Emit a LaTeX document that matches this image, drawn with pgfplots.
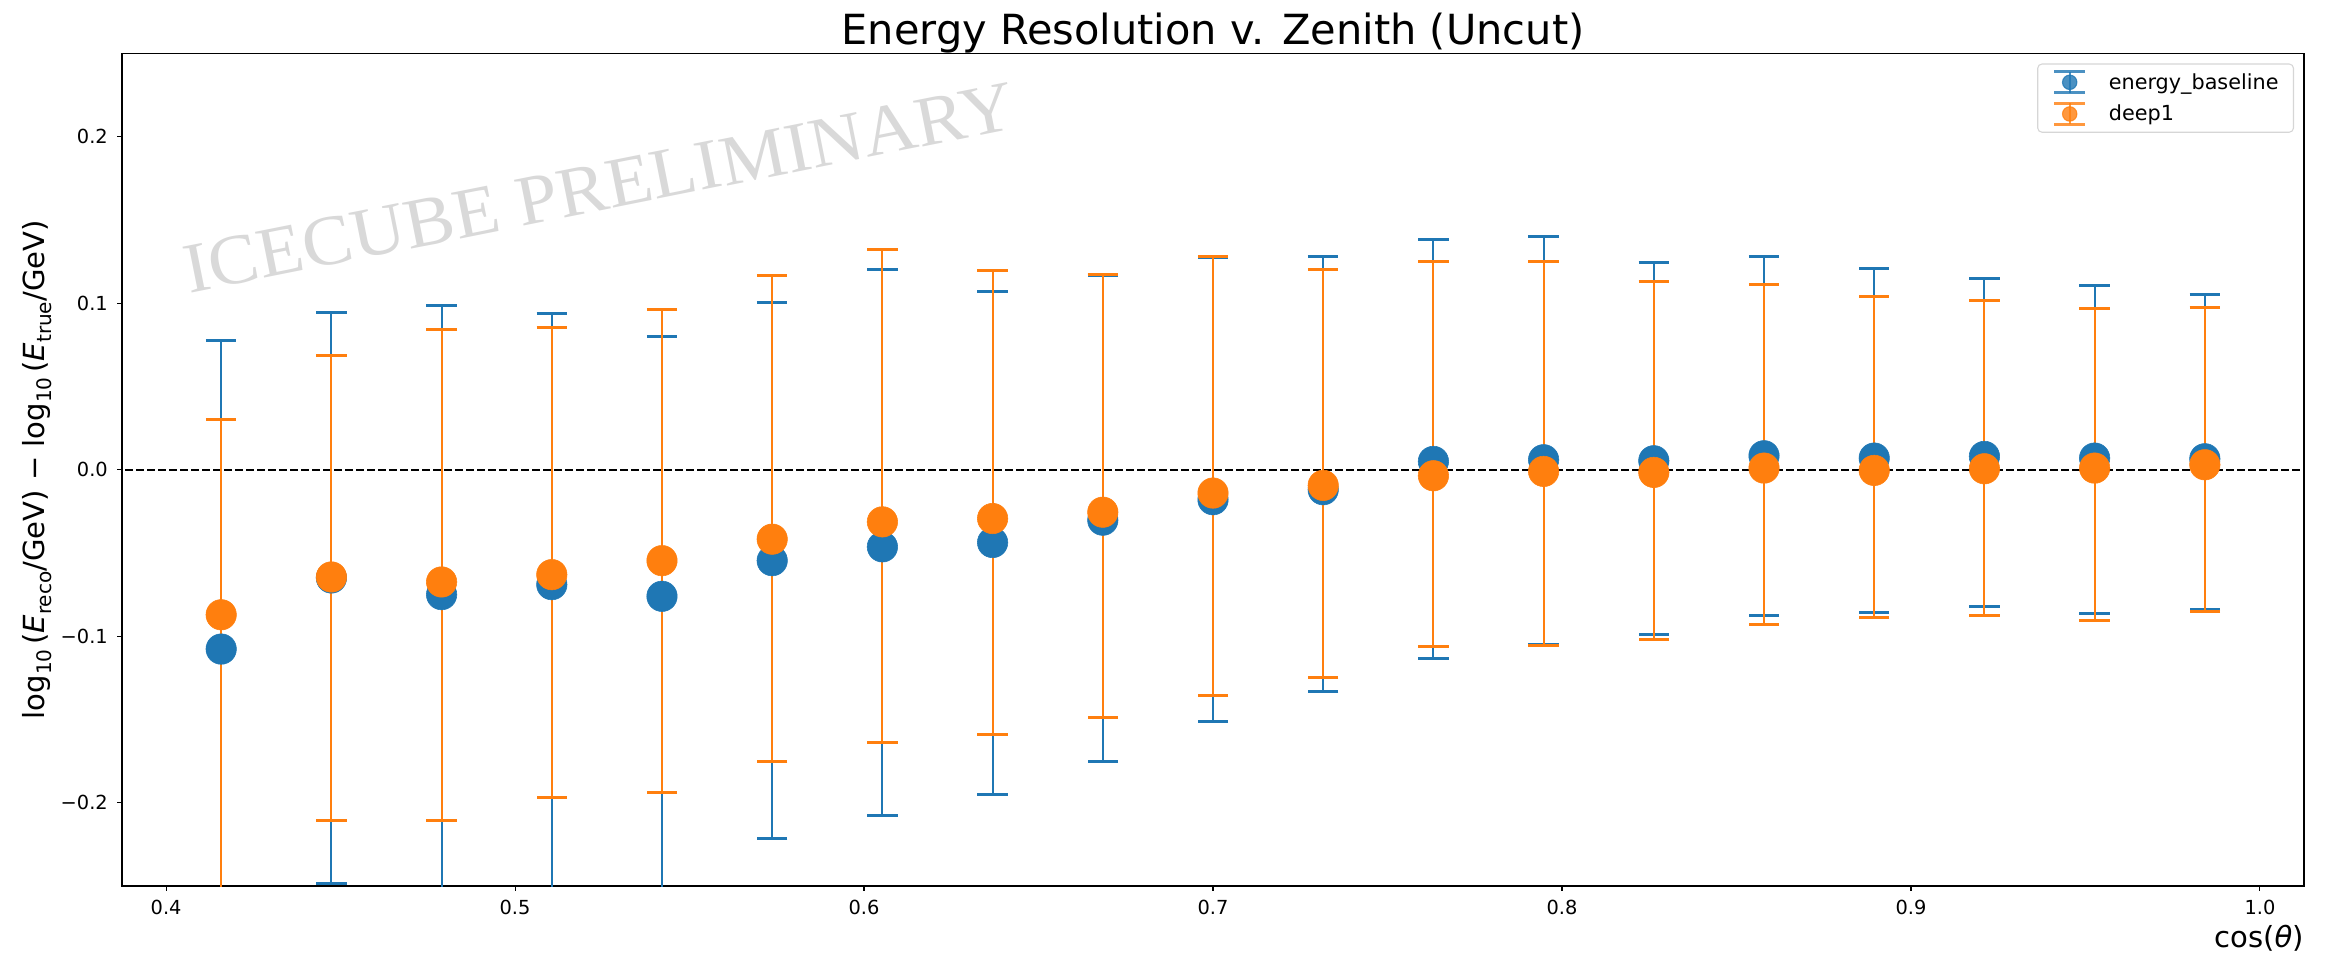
\documentclass[border=0pt]{standalone}
\usepackage{fontspec}
\setmainfont{DejaVu Sans}
\newfontfamily\wmfont{Liberation Serif}
\usepackage{pgfplots}
\pgfplotsset{compat=1.18}
\usepackage{pgfplotstable}
\definecolor{tabblue}{RGB}{31,119,180}
\definecolor{taborange}{RGB}{255,127,14}

% energy_baseline: x, centre, upper end, lower end of the error bar
\pgfplotstableread{
x y hi lo
0.415789 -0.1077 0.0778 -0.30
0.447368 -0.0650 0.0946 -0.2487
0.478947 -0.0750 0.0988 -0.30
0.510526 -0.0690 0.0940 -0.30
0.542105 -0.0760 0.0798 -0.30
0.573684 -0.0546 0.1006 -0.2217
0.605263 -0.0463 0.1200 -0.2076
0.636842 -0.0437 0.1070 -0.1952
0.668421 -0.0303 0.1168 -0.1751
0.700000 -0.0180 0.1275 -0.1511
0.731579 -0.0120 0.1278 -0.1330
0.763158 0.0050 0.1382 -0.1135
0.794737 0.0060 0.1402 -0.1047
0.826316 0.0054 0.1246 -0.0991
0.857895 0.0084 0.1278 -0.0875
0.889474 0.0070 0.1208 -0.0855
0.921053 0.0080 0.1150 -0.0823
0.952632 0.0070 0.1104 -0.0861
0.984211 0.0066 0.1052 -0.0841
}\bluetab

% deep1
\pgfplotstableread{
x y hi lo
0.415789 -0.0871 0.0304 -0.30
0.447368 -0.0644 0.0688 -0.2108
0.478947 -0.0674 0.0842 -0.2108
0.510526 -0.0630 0.0856 -0.1966
0.542105 -0.0546 0.0960 -0.1938
0.573684 -0.0417 0.1168 -0.1751
0.605263 -0.0313 0.1324 -0.1641
0.636842 -0.0293 0.1194 -0.1589
0.668421 -0.0255 0.1174 -0.1486
0.700000 -0.0140 0.1282 -0.1356
0.731579 -0.0094 0.1202 -0.1246
0.763158 -0.0036 0.1252 -0.1063
0.794737 -0.0010 0.1252 -0.1057
0.826316 -0.0016 0.1128 -0.1019
0.857895 0.0010 0.1110 -0.0927
0.889474 -0.0004 0.1038 -0.0889
0.921053 0.0006 0.1018 -0.0875
0.952632 0.0010 0.0966 -0.0903
0.984211 0.0030 0.0974 -0.0853
}\orangetab

\newcommand\sub[1]{\raisebox{-0.22em}{\fontsize{14.5}{14.5}\selectfont #1}}
\newcommand\lgimg[1]{%
  \draw[#1, line width=1.5pt] (0.155in,-0.105in) -- (0.155in,0.105in);
  \draw[#1, line width=2.2pt] (0in,-0.105in) -- (0.31in,-0.105in);
  \draw[#1, line width=2.2pt] (0in,0.105in) -- (0.31in,0.105in);
  \fill[#1] (0.155in,0pt) circle[radius=0.072in];}

\begin{document}
\begin{tikzpicture}
\path[use as bounding box] (-1.22in,-0.69in) rectangle (22.09in,8.86in);
\begin{axis}[
  name=ax, at={(0,0)}, anchor=south west,
  scale only axis, width=21.82in, height=8.325in,
  xmin=0.387368, xmax=1.012632, ymin=-0.25, ymax=0.25,
  xtick={0.4,0.5,0.6,0.7,0.8,0.9,1.0},
  xticklabels={0.4,0.5,0.6,0.7,0.8,0.9,1.0},
  ytick={-0.2,-0.1,0,0.1,0.2},
  yticklabels={−0.2,−0.1,0.0,0.1,0.2},
  tick pos=left, tick align=outside, major tick length=3.5pt,
  tick style={black, line width=0.8pt},
  axis line style={line width=0.8pt},
  ticklabel style={font=\fontsize{14}{16.8}\selectfont},
  xticklabel style={anchor=north, inner sep=0pt, yshift=-0.091in},
  yticklabel style={anchor=east, inner sep=0pt, xshift=-0.091in},
  legend style={at={(1,1)}, anchor=north east, xshift=-0.10in, yshift=-0.1in,
    draw=black!20, draw opacity=0.8, line width=0.8pt, rounded corners=3pt,
    fill=white, fill opacity=0.8, text opacity=1,
    font=\fontsize{15}{18}\selectfont,
    inner xsep=10.8pt, inner ysep=4.5pt, row sep=5.5pt, column sep=16pt,
    nodes={inner sep=0pt}},
  legend cell align=left,
]
\addplot[black, line width=1.5pt, dash pattern=on 5.55pt off 2.4pt, forget plot]
  coordinates {(0.3,0) (1.1,0)};

\addplot[only marks, mark=*, color=tabblue, mark size=11pt,
  legend image code/.code={\lgimg{tabblue}},
  error bars/.cd, y dir=both, y explicit, error mark=|,
  error bar style={line width=1.5pt, tabblue},
  error mark options={tabblue, line width=2.2pt, mark size=11pt}]
  table[x=x, y=y, y error plus expr=\thisrow{hi}-\thisrow{y},
        y error minus expr=\thisrow{y}-\thisrow{lo}] {\bluetab};
\addlegendentry{energy\_baseline}

\addplot[only marks, mark=*, color=taborange, mark size=11pt,
  legend image code/.code={\lgimg{taborange}},
  error bars/.cd, y dir=both, y explicit, error mark=|,
  error bar style={line width=1.5pt, taborange},
  error mark options={taborange, line width=2.2pt, mark size=11pt}]
  table[x=x, y=y, y error plus expr=\thisrow{hi}-\thisrow{y},
        y error minus expr=\thisrow{y}-\thisrow{lo}] {\orangetab};
\addlegendentry{deep1}

\node[anchor=base west, inner sep=0pt, text=black!15,
  font=\wmfont\fontsize{51.5}{51.5}\selectfont,
  rotate=11.3, xscale=1.05] at (axis cs:0.4065,0.106) {ICECUBE PRELIMINARY};
\end{axis}
\node[anchor=base, inner sep=0pt, font=\fontsize{30}{36}\selectfont]
  at ([yshift=0.09in]ax.north) {Energy Resolution v. Zenith (Uncut)};
\node[anchor=base east, inner sep=0pt, font=\fontsize{21}{25}\selectfont]
  at ([yshift=-0.61in]ax.south east) {cos(\textit{θ})};
\node[rotate=90, anchor=base, inner sep=0pt, font=\fontsize{21}{25}\selectfont]
  at ([xshift=-0.77in]ax.west)
  {log\sub{10}\,(\textit{E}\sub{reco}/GeV) − log\sub{10}\,(\textit{E}\sub{true}/GeV)};
\end{tikzpicture}
\end{document}
